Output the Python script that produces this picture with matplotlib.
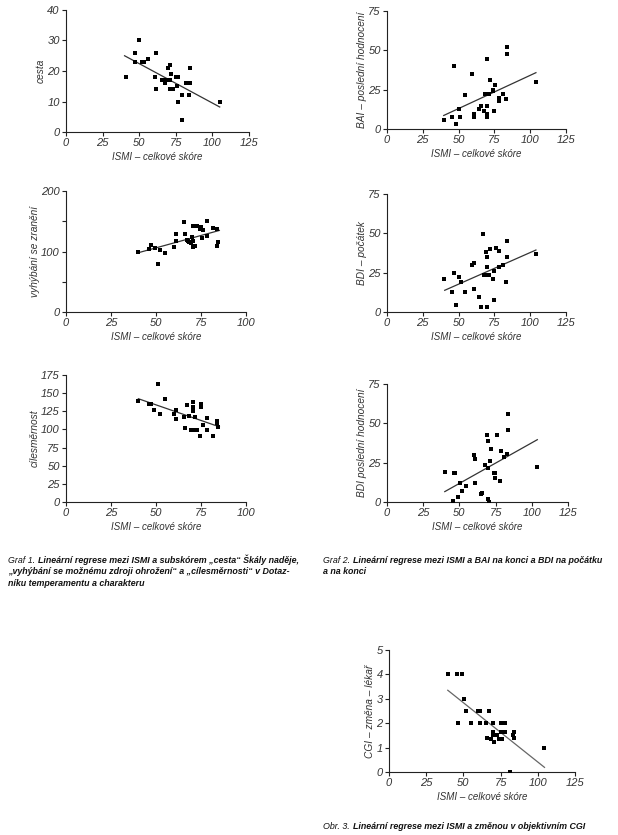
import numpy as np
import matplotlib
matplotlib.use("Agg")
import matplotlib.pyplot as plt

plt.rcParams['font.family'] = ['Liberation Sans', 'DejaVu Sans']

# --- data ---
cesta_x = [40.9, 47.3, 46.8, 49.8, 52, 53, 55.9, 60.7, 61.8, 61.8, 65.9, 67.3, 68.6, 70, 70.9,
           71.1, 71.8, 70.9, 73.2, 75, 76.4, 75.9, 76.8, 79, 79, 81.8, 84.1, 85, 85, 105]
cesta_y = [18, 26, 23, 30, 23, 23, 24, 18, 26, 14, 17, 16, 17, 21, 22,
           17, 19, 14, 14, 18, 18, 15, 10, 12, 4, 16, 12, 21, 16, 10]
cesta_fit = ([40, 105], [25, 8.2])

bai_x = [39.6, 45.7, 46.6, 48.5, 50.4, 51.3, 54.6, 59.7, 60.6, 60.6, 64.4, 65.8, 67.6, 68.6, 69.5,
         70, 70, 70, 70.9, 71.8, 73.7, 74.2, 74.6, 75.6, 80.7, 77.9, 77.9, 83, 84, 84, 104]
bai_y = [5.5, 7.6, 40, 3.4, 12.6, 7.6, 21.7, 35, 9.5, 7.6, 12.6, 14.7, 11.6, 22.5, 44.2,
         14.7, 9.5, 7.6, 22.5, 31.2, 24.9, 24, 11.6, 27.8, 22.5, 19.6, 17.7, 18.8, 52.2, 47.4, 29.7]
bai_fit = ([39.6, 104], [8.6, 35.8])

vyh_x = [40.2, 46.3, 47, 49.3, 51.3, 52.2, 55.2, 60.2, 61.1, 61.1, 65.4, 66.1, 67, 67.8, 68.5, 69.3,
         70, 70.4, 70.4, 71.5, 70.7, 72.6, 74.4, 75.2, 75.6, 76.3, 78.1, 78.5, 81.5, 84.1, 83.7, 84.6]
vyh_y = [98.6, 103.6, 110.7, 105.2, 80, 103, 97, 106.8, 117.8, 129.3, 149, 128.2, 118.9, 117.8, 115, 113.4,
         124.4, 142.5, 108, 109.6, 117.8, 142.5, 137, 139.7, 121.6, 135.3, 150.1, 125.5, 138.1, 137, 109, 115]
vyh_fit = ([40.2, 85.2], [98, 134.8])

bdi0_x = [39.6, 45.7, 46.6, 48.5, 50.4, 51.8, 54.6, 59.7, 60.6, 60.6, 64.4, 65.8, 66.7, 67.6, 68.6, 69,
          70, 70, 70, 70.9, 71.8, 73.7, 74.6, 74.6, 76, 77.9, 77.9, 80.7, 83, 84, 84, 104]
bdi0_y = [20.8, 12.5, 24.8, 4.2, 22.5, 18.9, 12.5, 29.9, 30.9, 14.6, 9.7, 3.4, 49.4, 23.7, 23.7, 38.1,
          35, 28.4, 3.4, 23.7, 40, 20.8, 25.8, 7.4, 40.9, 39, 28.8, 29.9, 18.9, 45.1, 35, 37.1]
bdi0_fit = ([40.3, 104], [13.8, 39.4])

cil_x = [40.2, 45.9, 47, 49, 51.3, 52.2, 55.2, 60.2, 61.1, 61.1, 65.4, 66.3, 67, 68.1, 69.3, 70.4,
         70.4, 70.4, 70.4, 71.5, 72.6, 74.4, 75.2, 75.2, 76.3, 78.1, 78.5, 81.5, 83.7, 84.1, 84.6]
cil_y = [139.1, 135.4, 135.4, 126.2, 162.6, 121.6, 141.4, 120.7, 127.1, 113.8, 116.5, 101.3, 133.1, 117.9,
         98.6, 138.2, 131.3, 124.8, 98.6, 116.5, 98.6, 90.3, 135, 130.8, 105.9, 115.6, 99.5, 90.3, 109.2,
         111.9, 102.7]
cil_fit = ([40.2, 85.2], [142.3, 103.6])

bdi1_x = [39.9, 46.6, 47, 45.7, 48.7, 50.7, 51.7, 54.4, 59.9, 60.9, 60.9, 64.6, 65.9, 67.8, 68.9, 69.6,
          69.6, 69.6, 70.1, 71, 71.9, 73.8, 74.7, 74.7, 76.1, 77.9, 78.4, 80.7, 83, 83.9, 83.9, 103.8]
bdi1_y = [19.1, 18.2, 18.2, 0.6, 3, 12.3, 7, 10, 29.7, 27.3, 12.1, 5.1, 5.9, 23.3, 42.8, 38.8,
          21.4, 1.7, 0, 26.3, 33.5, 18.2, 18.2, 15, 42.8, 13.1, 32.6, 28.4, 30.3, 56.1, 46, 22.2]
bdi1_fit = ([39.9, 103.8], [6.6, 39.6])

cgi_x = [39.5, 45.5, 49.1, 46.7, 50.7, 51.6, 54.9, 59.6, 60.9, 60.9, 65, 65.6, 67, 68.3, 69.6, 69.9,
         69.9, 70.8, 70.8, 72.3, 73.7, 75, 75.2, 75.9, 78.1, 78.1, 81.3, 83, 83.9, 84.2, 104.5]
cgi_y = [4, 4, 4, 2, 3, 2.5, 2, 2.5, 2.5, 2, 2, 1.4, 2.5, 1.35, 2, 1.65,
         1.5, 1.5, 1.25, 1.5, 1.35, 1.65, 2, 1.35, 2, 1.65, 0, 1.5, 1.65, 1.4, 1]
cgi_fit = ([39.5, 104.5], [3.35, 0.19])

xlab = "ISMI – celkové skóre"

W, H = 618, 835
fig = plt.figure(figsize=(W / 100, H / 100), dpi=100)


def box(l, r, t, b):
    return [l / W, 1 - b / H, (r - l) / W, (b - t) / H]


def panel(rect, x, y, fit, ylabel, xmax, ymax, ystep, ylabstep, linecol="#333333"):
    ax = fig.add_axes(rect)
    ax.plot(fit[0], fit[1], color=linecol, lw=0.9, zorder=2)
    ax.plot(x, y, 's', color='black', ms=2.4, mew=0, zorder=3)
    ax.set_xlim(0, xmax)
    ax.set_ylim(0, ymax)
    ax.set_xticks(np.arange(0, xmax + 1, 25))
    yt = np.arange(0, ymax + ystep / 2, ystep)
    ax.set_yticks(yt)
    ax.set_yticklabels([("%g" % v) if abs((v / ylabstep) - round(v / ylabstep)) < 1e-6 else "" for v in yt])
    for s in ['top', 'right']:
        ax.spines[s].set_visible(False)
    for s in ['left', 'bottom']:
        ax.spines[s].set_linewidth(0.8)
        ax.spines[s].set_color('#222222')
    ax.tick_params(length=3, width=0.8, labelsize=8, colors='#222222', pad=1.5)
    for lab in ax.get_xticklabels() + ax.get_yticklabels():
        lab.set_fontstyle('italic')
        lab.set_color('#333333')
    ax.set_xlabel(xlab, fontsize=7, style='italic', color='#333333', labelpad=3)
    ax.set_ylabel(ylabel, fontsize=7.3, style='italic', color='#333333', labelpad=1)
    return ax


panel(box(66, 249, 10, 132), cesta_x, cesta_y, cesta_fit, "cesta", 125, 40, 10, 10)
panel(box(387, 566, 11, 129), bai_x, bai_y, bai_fit, "BAI – poslední hodnocení", 125, 75, 25, 25)
panel(box(66, 246, 191, 312), vyh_x, vyh_y, vyh_fit, "vyhýbání se zranění", 100, 200, 50, 100)
panel(box(387, 566, 194, 312), bdi0_x, bdi0_y, bdi0_fit, "BDI – počátek", 125, 75, 25, 25)
panel(box(66, 246, 375, 502), cil_x, cil_y, cil_fit, "cílesměrnost", 100, 175, 25, 25)
panel(box(387, 568, 384, 502), bdi1_x, bdi1_y, bdi1_fit, "BDI poslední hodnocení", 125, 75, 25, 25)
panel(box(389, 575, 650, 772), cgi_x, cgi_y, cgi_fit, "CGI – změna – lékař", 125, 5, 1, 1, linecol="#666666")

# captions: regular italic prefix, then bold italic text
cap_fs = 6.4
renderer = fig.canvas.get_renderer()


def caption(x, y, prefix, lines, dy=11.5):
    t = fig.text(x / W, 1 - y / H, prefix, fontsize=cap_fs, style='italic', va='baseline', color='#111111')
    bb = t.get_window_extent(renderer=renderer)
    fig.text(bb.x1 / W + 3 / W, 1 - y / H, lines[0], fontsize=cap_fs, style='italic',
             weight='bold', va='baseline', color='#111111')
    for i, ln in enumerate(lines[1:], start=1):
        fig.text(x / W, 1 - (y + i * dy) / H, ln, fontsize=cap_fs, style='italic',
                 weight='bold', va='baseline', color='#111111')


caption(8, 563, "Graf 1.", ["Lineární regrese mezi ISMI a subskórem „cesta“ Škály naděje,",
                            "„vyhýbání se možnému zdroji ohrožení“ a „cílesměrnosti“ v Dotaz-",
                            "níku temperamentu a charakteru"])
caption(323, 563, "Graf 2.", ["Lineární regrese mezi ISMI a BAI na konci a BDI na počátku",
                              "a na konci"])
caption(323, 829, "Obr. 3.", ["Lineární regrese mezi ISMI a změnou v objektivním CGI"])

fig.savefig("out.png", dpi=100)
